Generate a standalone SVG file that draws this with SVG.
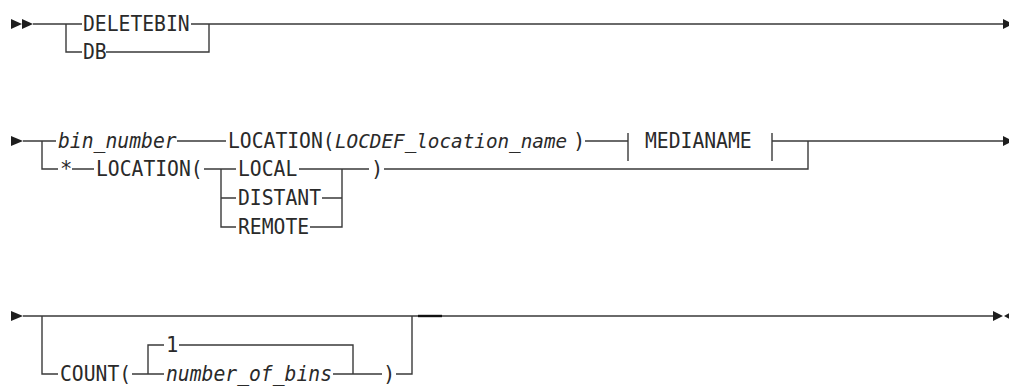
<svg xmlns="http://www.w3.org/2000/svg" width="1009" height="386" viewBox="0 0 1009 386">
<style>
.ln{fill:none;stroke:#3a3a3a;stroke-width:1.4;stroke-linecap:butt}
.ar{fill:#1e1e1e}
text{font-family:"DejaVu Sans Mono","Liberation Mono",monospace;font-size:20.5px;fill:#2a2a2a}
.v{font-style:italic}
</style>
<rect width="1009" height="386" fill="#fff"/>
<g id="connectors">
  <path class="ln" d="M33,24 H82 M191,24 H1004 M66,24 V52 H82 M106,52 H209 V24"/>
  <path class="ln" d="M23,141 H56 M177,141 H226 M585,141 H628 M628,133 V161 M772,133 V161 M772,141 H1004"/>
  <path class="ln" d="M42,141 V169 H58 M72,169 H94 M204,169 H236 M299,169 H369 M384,169 H808 V141"/>
  <path class="ln" d="M221,169 V227 H236 M221,198 H236 M322,198 H342 M310,227 H342 V169"/>
  <path class="ln" d="M23,316 H994 M42,316 V374 H58 M132,374 H164 M148,374 V345 H164 M179,345 H353 V374 M333,374 H382 M396,374 H412 V316"/>
  <path class="ln" d="M418,316 H442" style="stroke-width:2.4;stroke:#111"/>
  <polygon class="ar" points="11,19 22,24 11,29"/>
  <polygon class="ar" points="22,19 33,24 22,29"/>
  <polygon class="ar" points="1003,19 1013,24 1003,29"/>
  <polygon class="ar" points="11,136 23,141 11,146"/>
  <polygon class="ar" points="1003,136 1013,141 1003,146"/>
  <polygon class="ar" points="11,311 23,316 11,321"/>
  <polygon class="ar" points="993,311 1003,316 993,321"/>
  <polygon class="ar" points="1013,311 1004,316 1013,321"/>
</g>
<g id="n-deletebin"><text x="83" y="31" textLength="106.7" lengthAdjust="spacingAndGlyphs">DELETEBIN</text></g>
<g id="n-db"><text x="83" y="59" textLength="23.7" lengthAdjust="spacingAndGlyphs">DB</text></g>
<g id="n-bin-number"><text x="58" y="148" class="v" textLength="118.6" lengthAdjust="spacingAndGlyphs">bin_number</text></g>
<g id="n-location-name">
  <text x="228" y="148" textLength="106.7" lengthAdjust="spacingAndGlyphs">LOCATION(</text>
  <text x="335" y="148" class="v" style="font-size:19.3px">LOCDEF_location_name</text>
  <text x="573" y="148">)</text>
</g>
<g id="n-medianame"><text x="645" y="148" textLength="106.7" lengthAdjust="spacingAndGlyphs">MEDIANAME</text></g>
<g id="n-star"><text x="60" y="176">*</text></g>
<g id="n-location"><text x="96" y="176" textLength="106.7" lengthAdjust="spacingAndGlyphs">LOCATION(</text></g>
<g id="n-local"><text x="238" y="176" textLength="59.3" lengthAdjust="spacingAndGlyphs">LOCAL</text></g>
<g id="n-distant"><text x="238" y="205" textLength="83" lengthAdjust="spacingAndGlyphs">DISTANT</text></g>
<g id="n-remote"><text x="238" y="234" textLength="71.2" lengthAdjust="spacingAndGlyphs">REMOTE</text></g>
<g id="n-close1"><text x="371" y="176">)</text></g>
<g id="n-count"><text x="60" y="381" textLength="71.2" lengthAdjust="spacingAndGlyphs">COUNT(</text></g>
<g id="n-one"><text x="166" y="352">1</text></g>
<g id="n-number-of-bins"><text x="166" y="381" class="v" textLength="166" lengthAdjust="spacingAndGlyphs">number_of_bins</text></g>
<g id="n-close2"><text x="383" y="381">)</text></g>
</svg>
